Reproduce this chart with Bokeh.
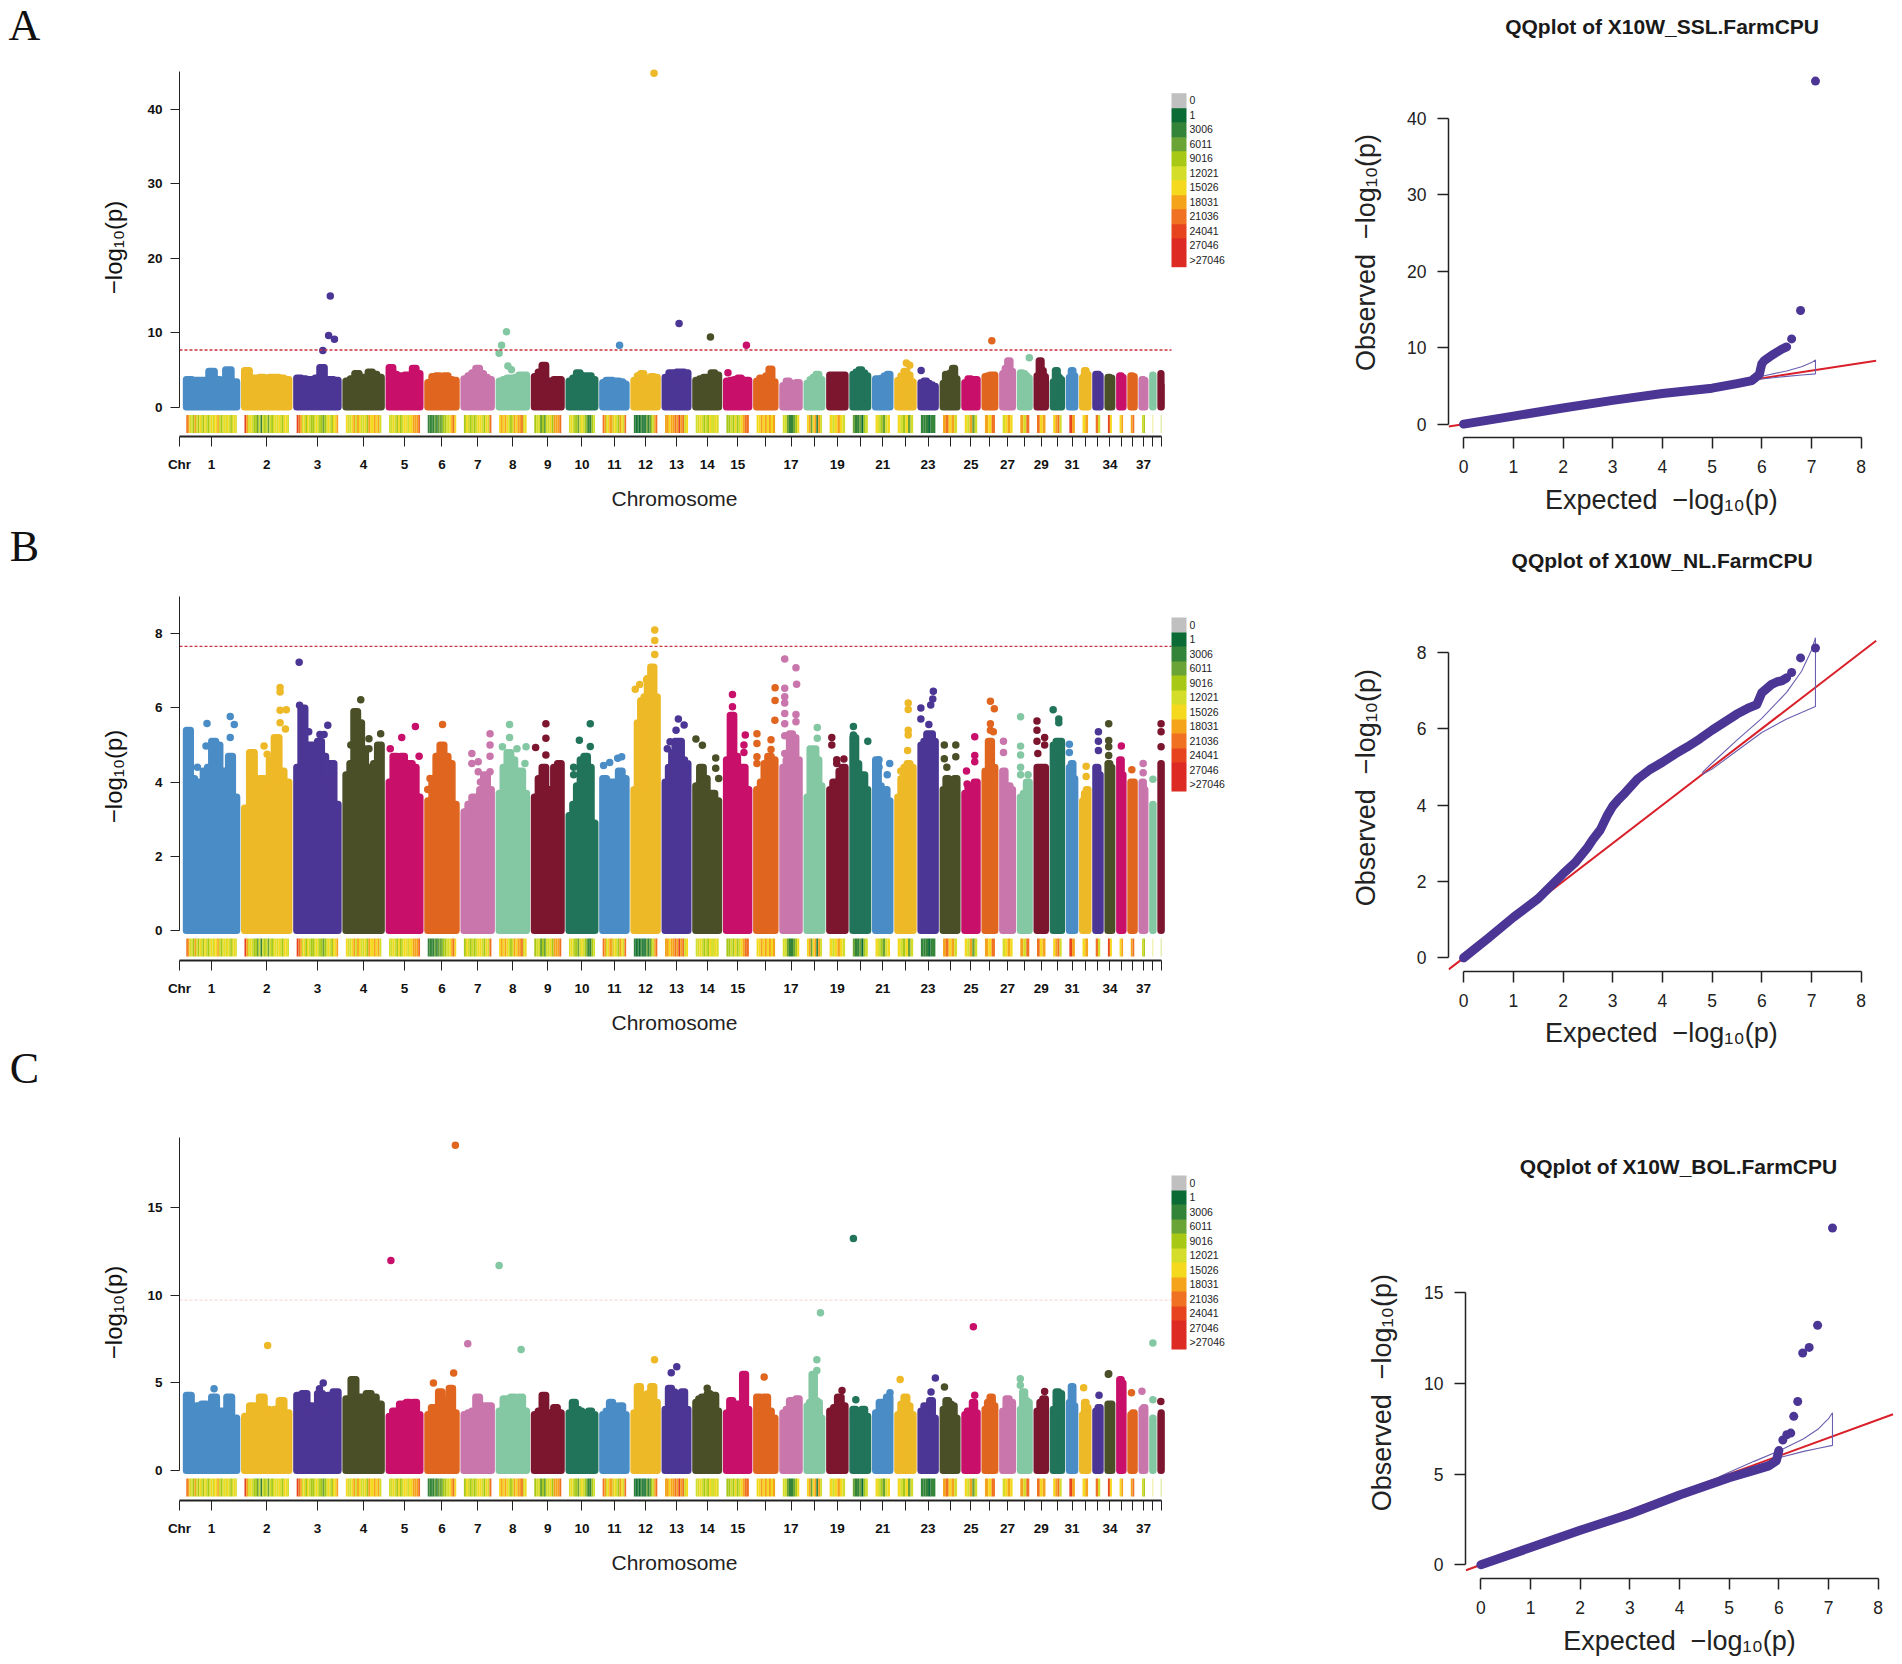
import math
import numpy as np
from bokeh.core.properties import value
from bokeh.embed import file_html
from bokeh.resources import INLINE
from bokeh.layouts import row, column
from bokeh.plotting import figure
from bokeh.models import (LinearAxis, FixedTicker, Range1d, ColorBar, LinearColorMapper, AllLabels)

# ---------------------------------------------------------------- data
chrom_mb = [101, 89, 83, 71, 62, 57, 55, 55, 54, 52, 47, 47, 46, 46, 45, 37, 33, 30, 31, 30,
            29, 31, 29, 28, 25, 20, 20, 18, 17, 17, 11, 11, 9, 8, 7, 7, 6, 1, 1]
gap_mb = 15.37
shown_chrom = [1,2,3,4,5,6,7,8,9,10,11,12,13,14,15,17,19,21,23,25,27,29,31,34,37]
chrom_colors = ["#4a8cc6", "#eeb927", "#4b3595", "#4a4f28", "#c8106b",
                "#e0651e", "#c876ac", "#84c7a3", "#7c162e", "#217359"]

legend_labels = ["0", "1", "3006", "6011", "9016", "12021", "15026", "18031", "21036",
                 "24041", "27046", ">27046"]
legend_colors = ["#c0c0c0", "#0b6b35", "#338338", "#6aa436", "#a7c814", "#d4dd2a",
                 "#f4d91e", "#f5a31b", "#ef7121", "#e8431f", "#dd2a22", "#dd2a22"]

density = ["8755475465465456566754565654565", "9756544352545354565654665", "987564654456544345654667",
           "6556757655647667675", "55654645665667778", "22223233344556786", "46545456654658",
           "676765457677856", "45534355647778", "565443565432245",
           "87567756547658", "212122123234578", "776778797856", "556545465565", "44546456788",
           "667676767", "55322346", "67367275", "656765", "3223145", "654356", "654635",
           "222122", "78675", "65735", "768", "5676", "758", "867", "6785", "97", "67", "85",
           "96", "67", "78", "54", "5", "4"]

env_a = [
 [3.7,3.6,3.6,3.6,4.8,3.7,3.6,5.0,3.4],[4.9,3.9,3.9,4.0,3.9,4.0,4.0,3.9,3.7],
 [3.9,3.8,3.7,3.7,3.9,5.3,3.7,3.7,3.6],[3.5,3.8,4.5,4.0,4.0,4.7,4.4,4.0],
 [5.3,4.4,4.2,4.2,4.3,4.2,5.2,4.5],[3.3,4.1,4.2,3.7,4.2,3.7,3.6],
 [3.8,4.2,4.6,5.2,4.5,4.0,3.7],[3.5,3.7,3.9,3.9,4.0,4.3,4.3],
 [4.1,4.7,5.6,3.5,3.4,3.7,3.7],[3.5,3.9,4.6,4.0,4.2,4.2,3.7],
 [3.3,3.6,3.6,3.5,3.5,3.4,3.1],[3.6,4.2,4.5,3.8,3.7,4.1,4.0],
 [4.0,4.6,4.6,4.7,4.7,4.6],[3.6,3.8,4.0,4.0,4.6,4.3],[3.5,3.6,3.7,3.9,3.5,3.6],
 [3.5,3.9,3.7,4.2,5.1,3.4],[2.9,3.5,3.2,3.2,3.3],[3.2,3.7,4.0,4.4,3.7],
 [4.3,4.3,4.3,4.3,4.3],[4.4,4.7,5.0,4.6,4.2],[3.8,3.7,3.9,4.2,4.4],
 [3.6,4.2,4.8,4.3,3.4],[3.3,3.5,3.2,3.0,2.8],[3.2,4.4,3.6,4.6,5.2,3.8],
 [3.3,3.8,3.7,3.7],[4.1,4.2,4.3,4.3],[4.5,5.2,6.2,4.8],[4.6,4.5,4.2,3.9],
 [4.2,6.2,4.9,4.1],[3.4,4.9,4.0,3.7],[4.0,4.9,4.2],[4.0,4.9,4.4],[4.4,4.4,4.2],
 [4.0,3.9],[4.2,4.0],[4.2,4.1],[3.7,3.6],[4.3,4.3],[4.5,3.0]]
hits_a = [(3,.81,14.9),(3,.77,9.6),(3,.91,9.1),(3,.63,7.6),(12,.86,44.8),(8,.27,10.1),(8,.09,8.3),
          (8,.0,7.2),(8,.32,5.5),(8,.45,5.0),(11,.72,8.3),(13,.61,11.2),(14,.64,9.4),(15,.89,8.3),
          (15,.07,4.6),(26,.69,8.9),(22,.56,5.9),(22,.78,5.6),(23,.02,4.9),(28,1.0,6.6)]

env_b = [
 [5.4,4.1,4.0,3.9,4.3,4.4,5.1,5.0,4.0,4.3,4.7,3.6],[3.3,4.8,3.9,4.1,3.9,4.6,5.2,4.3,4.0],
 [4.4,6.0,4.1,5.0,4.1,5.1,4.7,4.2,4.5,3.4],[4.2,4.5,5.9,5.6,4.9,4.2,4.4,4.5,5.0],
 [4.0,4.7,4.0,4.7,4.1,4.5,4.4,3.6],[3.5,4.1,4.7,5.0,4.7,4.5,3.4],
 [3.2,3.4,3.6,3.3,3.8,4.2,3.8],[3.7,4.4,4.8,4.6,4.1,4.3,3.7],
 [3.6,4.1,4.4,3.8,3.8,4.4,4.5],[3.1,3.4,3.9,4.6,4.7,4.4,2.9],
 [4.1,3.3,4.0,3.5,4.3,4.1],[3.8,5.6,6.2,6.3,6.8,7.1,6.3],
 [4.0,4.4,4.8,5.1,5.1,4.6,4.5],[3.9,4.4,4.1,3.7,3.7,3.5],[4.6,5.8,4.7,4.0,4.4,3.8],
 [3.8,4.0,4.5,4.7,4.6],[4.4,4.6,5.3,5.2,4.6],[3.6,4.9,4.9,4.6,3.9],[3.8,4.0,4.0,4.3,4.4],
 [5.2,4.5,4.2,4.2,3.8],[4.6,3.9,3.8,3.8,3.5],[3.6,4.1,4.4,4.5,4.4],[5.0,5.1,5.3,5.3,5.1],
 [3.8,4.1,3.9,4.0,4.1],[3.7,3.9,3.8,4.0],[4.3,5.1,4.4],[4.3,3.7,3.9,3.8],[3.6,3.7,4.0],
 [4.4,4.4,4.4],[5.0,5.1,5.1],[4.4,4.5,4.1],[3.5,3.7,3.8],[4.4,4.2],[4.5,4.4],[4.6,4.2],
 [4.0,4.0],[4.0,3.8],[3.4,3.4],[4.5,4.5]]
hits_b = [(1,.41,5.58),(1,.87,5.77),(1,.95,5.55),(1,.39,4.97),(1,.87,5.2),(1,.22,4.4),
 (2,.8,6.55),(2,.8,6.43),(2,.8,5.94),(2,.94,5.95),(2,.8,5.6),(2,.92,5.43),(2,.44,4.97),(2,.51,4.75),
 (3,.06,7.23),(3,.07,6.07),(3,.29,5.36),(3,.75,5.53),(3,.56,5.28),(3,.66,5.28),
 (4,.42,6.22),(4,.65,5.17),(4,.14,5.0),(4,.98,5.3),(4,.65,4.9),
 (5,.85,5.5),(5,.41,5.2),(5,.04,4.9),(5,.97,4.7),(6,.52,5.55),(6,.0,3.8),(6,.08,4.1),
 (7,.95,5.3),(7,.95,5.0),(7,.95,4.7),(7,.29,4.77),(7,.29,4.5),(7,.52,4.55),(7,.52,4.28),(7,.95,4.28),(7,.6,4.0),
 (8,.38,5.55),(8,.38,5.2),(8,.12,4.95),(8,.65,4.9),(8,.98,4.95),(8,.94,4.5),
 (9,.43,5.57),(9,.43,5.18),(9,.05,4.93),(9,.43,4.73),
 (10,.82,5.57),(10,.4,5.13),(10,.82,4.96),(10,.18,4.4),(10,.18,4.2),
 (11,.04,4.45),(11,.3,4.53),(11,.64,4.64),(11,.81,4.68),
 (12,.89,8.1),(12,.89,7.82),(12,.89,7.44),(12,.06,6.5),(12,.25,6.63),(12,.54,6.76),
 (13,.58,5.7),(13,.83,5.54),(13,.48,5.4),(13,.22,5.09),(13,.1,4.9),
 (14,.01,5.16),(14,.29,4.99),(14,.87,4.65),(14,.87,4.37),(14,1.0,4.1),
 (15,.27,6.36),(15,.27,6.03),(15,.84,5.27),(15,.78,5.0),(15,.78,4.8),
 (16,1.0,6.54),(16,1.0,6.2),(16,.99,5.67),(16,.02,5.3),(16,.02,5.04),(16,.02,4.68),(16,.02,4.5),(16,.78,5.14),(16,.78,4.88),
 (17,.12,7.32),(17,.8,7.08),(17,.84,6.64),(17,.12,6.53),(17,.12,6.3),(17,.12,6.13),(17,.12,5.85),(17,.8,5.82),(17,.8,5.63),(17,.12,5.57),(17,.12,5.25),(17,.12,4.77),
 (18,.69,5.47),(18,.69,5.18),(19,.14,5.2),(19,.14,5.0),(19,.46,4.5),(19,.92,4.62),(19,.46,4.6),
 (20,.04,5.5),(20,1.0,5.1),(20,.04,5.27),(21,.24,4.6),(21,.24,4.4),(21,.98,4.5),(21,.81,4.2),
 (22,.68,6.13),(22,.68,5.96),(22,.68,5.4),(22,.68,5.27),(22,.64,4.85),(22,.2,4.3),
 (23,.86,6.45),(23,.82,6.24),(23,.68,6.08),(23,.0,6.0),(23,.0,5.7),(23,.55,5.55),
 (24,.09,5.0),(24,.91,5.0),(24,.91,4.68),(24,.09,4.63),(24,.27,4.4),
 (25,.8,5.22),(25,.8,4.72),(25,.8,4.55),(25,.14,4.3),(25,.19,3.95),
 (26,.55,6.18),(26,.94,5.98),(26,.55,5.57),(26,.55,5.4),(26,.84,5.36),(27,.09,5.1),(27,.09,4.8),
 (28,.03,5.76),(28,.03,4.97),(28,.03,4.73),(28,.03,4.4),(28,.87,4.2),(28,.03,4.2),
 (29,.0,5.65),(29,.0,5.4),(29,.0,5.1),(29,.1,4.77),(29,.9,5.2),(29,.9,5.0),
 (30,.0,5.95),(30,.66,5.7),(30,.66,5.6),(31,.0,5.02),(31,.0,4.8),(32,.66,4.43),(32,.66,4.15),
 (33,.6,5.36),(33,.6,5.1),(33,.6,4.85),(34,.2,5.57),(34,.2,5.12),(34,.2,4.95),(34,.2,4.72),
 (35,.5,4.97),(36,.3,4.33),(37,.4,4.5),(37,.4,4.25),(38,.5,4.08),(39,.5,5.57),(39,.5,5.36),(39,.5,4.95)]

env_c = [
 [4.3,3.3,3.7,3.8,3.4,4.2,3.4,3.4,4.2,3.0],[3.1,3.7,3.5,4.2,3.5,3.3,3.5,4.0,3.3],
 [4.3,4.4,3.7,3.6,4.4,3.7,4.3,4.5],[4.1,5.2,4.2,4.2,4.4,4.2,3.8],
 [3.1,3.4,3.4,3.8,3.5,3.9,3.4,3.9,3.2],[3.2,3.6,3.4,4.5,4.0,3.8,4.7,3.3],
 [3.2,3.3,3.4,4.2,3.7,3.7,3.7],[3.4,4.1,4.0,4.2,3.6,4.2,3.4],
 [3.2,3.4,4.3,3.3,3.3,3.6,3.3],[3.3,3.9,3.5,3.4,3.2,3.3,3.4,3.2],
 [3.2,3.4,3.9,3.7,3.4,3.7,3.2],[3.3,4.8,4.2,4.1,4.4,4.8,3.9],
 [3.5,4.7,4.5,3.9,3.6,4.5,3.5],[3.9,4.1,4.2,3.9,4.4,4.1,4.3,3.4],
 [3.3,4.0,3.7,3.8,3.8,5.5,3.5],[4.2,4.1,4.2,3.4,3.0],[3.3,3.5,4.0,4.0,4.1],
 [3.7,3.9,5.5,4.0,3.9,3.0],[3.4,3.6,4.2,3.7],[3.5,3.4,3.2,3.5,3.1],[3.3,3.9,3.9,4.2],
 [3.2,3.8,4.2,3.7,3.2],[3.4,3.7,3.4,4.0,3.0],[3.5,4.0,3.8,3.7,3.0],[3.2,3.4,3.4,3.9,3.3],
 [3.5,3.9,4.2,3.7],[3.4,4.1,3.9],[3.5,4.5,4.0,3.9],[3.4,3.9,4.1],[3.5,4.5,4.4],
 [3.9,4.8,3.7],[3.2,3.9,3.6],[3.4,3.6],[3.8,3.8],[5.2,5.0],[3.2,3.3],[3.5,3.6],[3.0,3.0],[3.2,3.3]]
hits_c = [(6,.97,18.57),(5,.06,11.98),(8,.0,11.7),(20,.04,13.24),(18,.9,9.0),(25,.69,8.2),(2,.52,7.14),
 (7,.14,7.24),(8,.8,6.9),(38,.5,7.28),(18,.66,6.32),(18,.66,5.71),(12,.88,6.32),(13,.51,5.92),(13,.27,5.58),
 (6,.91,5.56),(6,.2,5.0),(22,.16,5.2),(23,1.0,5.28),(24,.1,4.76),(34,.2,5.52),(34,.1,5.5),(28,.0,5.24),(28,.0,4.86),
 (36,.2,4.44),(37,.0,4.53),(38,.5,4.04),(39,.0,3.94),(32,.2,4.72),(33,.74,4.29),(1,.55,4.67),(3,.64,5.0),
 (3,.55,4.67),(19,.8,4.57),(20,.2,4.04),(21,1.0,4.44),(23,.7,4.48),(16,.41,5.33),(14,.5,4.7),(29,.9,4.51),(25,.8,4.3)]

qq_expected_a = [0, 1, 2, 3, 4, 5, 5.5, 5.8, 5.95, 6.0, 6.05, 6.2, 6.3, 6.4, 6.5]
qq_observed_a = [0, 1.05, 2.1, 3.1, 4.0, 4.7, 5.3, 5.7, 6.5, 7.9, 8.3, 9.0, 9.4, 9.8, 10.1]
qq_tail_x_a = [6.6, 6.78, 7.08]
qq_tail_y_a = [11.15, 14.87, 44.9]
qq_expected_b = [0, 0.5, 1, 1.5, 2, 2.25, 2.5, 2.6, 2.75, 2.9, 3, 3.1, 3.25, 3.5, 3.75, 4, 4.25, 4.5, 4.75, 5, 5.25, 5.5, 5.75, 5.9, 6, 6.1, 6.2, 6.3, 6.4, 6.5]
qq_observed_b = [0, 0.52, 1.06, 1.55, 2.2, 2.5, 2.9, 3.1, 3.35, 3.75, 3.97, 4.12, 4.32, 4.68, 4.93, 5.12, 5.33, 5.52, 5.73, 5.96, 6.17, 6.38, 6.55, 6.63, 6.94, 7.05, 7.16, 7.22, 7.25, 7.33]
qq_tail_x_b = [6.6, 6.78, 7.08]
qq_tail_y_b = [7.47, 7.85, 8.11]
qq_expected_c = [0, 1, 2, 3, 4, 5, 5.5, 5.8, 5.95, 6.0]
qq_observed_c = [0, 0.95, 1.9, 2.8, 3.85, 4.8, 5.2, 5.45, 5.73, 6.3]
qq_tail_x_c = [6.08, 6.16, 6.24, 6.3, 6.38, 6.48, 6.61, 6.78, 7.08]
qq_tail_y_c = [6.88, 7.17, 7.26, 8.18, 9.0, 11.67, 11.98, 13.2, 18.56]
ci_x = [4.8, 5, 5.5, 6, 6.5, 6.8, 7.0, 7.08, 7.08, 6.8, 6.5, 6, 5.5, 5, 4.8]
ci_y = [4.85, 5.1, 5.7, 6.27, 6.95, 7.5, 8.05, 8.38, 6.58, 6.42, 6.25, 5.9, 5.42, 4.94, 4.8]
diag = [-0.3, 8.3]

# ---------------------------------------------------------------- layout helpers
FONT = "Liberation Sans"
MAN_W = 1290
QQ_X = 1290
QQ_W = 610

starts = []
_x = 0.0
for L in chrom_mb:
    starts.append(_x)
    _x += L + gap_mb
ends = [s + L for s, L in zip(starts, chrom_mb)]
centers = [(s + e) / 2 for s, e in zip(starts, ends)]
MB_PER_PX = 2.0
ORIGIN_PX = 185.8


def put_text(p, x, y, text, size, font=FONT, style="normal", angle=0.0, color="#222222"):
    p.text([x], [y], text=[text], text_font=value(font), text_font_size=value(size),
           text_font_style=style, angle=angle, text_align="center", text_baseline="middle",
           text_color=color, level="annotation")


def manhattan(env, hits, fig_top, fig_h, y0, unit, frame_top, frame_bottom, ticks, axis_top,
              thr, thr_col, legend_top, chrom_y, letter, letter_y, ylab_y):
    left_px, right_px = 179.0, 1240.0
    xs0 = (left_px - ORIGIN_PX) * MB_PER_PX
    xs1 = (right_px - ORIGIN_PX) * MB_PER_PX
    p = figure(width=MAN_W, height=fig_h, output_backend="svg", toolbar_location=None,
               x_axis_location=None, y_axis_location=None, frame_align=False,
               x_range=Range1d(xs0, xs1),
               y_range=Range1d((y0 - frame_bottom) / unit, (y0 - frame_top) / unit),
               min_border_left=int(left_px), min_border_right=int(MAN_W - right_px),
               min_border_top=int(frame_top - fig_top), min_border_bottom=int(fig_top + fig_h - frame_bottom))
    p.outline_line_color = None
    p.background_fill_color = None
    p.grid.visible = False
    X = lambda px: (px - ORIGIN_PX) * MB_PER_PX
    Y = lambda py: (y0 - py) / unit

    # chromosome silhouettes: one column per value
    xs, ys, cols = [], [], []
    for i, e in enumerate(env):
        edges = np.linspace(starts[i], ends[i], len(e) + 1)
        px_, py_ = [starts[i]], [0.0]
        for k, v in enumerate(e):
            px_ += [edges[k], edges[k + 1]]
            py_ += [v, v]
        px_.append(ends[i])
        py_.append(0.0)
        xs.append(px_)
        ys.append(py_)
        cols.append(chrom_colors[i % 10])
    p.patches(xs, ys, fill_color=cols, line_color=cols, line_width=7, line_join="round")

    hx = [starts[c - 1] + f * chrom_mb[c - 1] for c, f, v in hits]
    hy = [v for c, f, v in hits]
    hc = [chrom_colors[(c - 1) % 10] for c, f, v in hits]
    p.scatter(hx, hy, size=7.5, fill_color=hc, line_color=None)

    # threshold
    p.line([xs0, X(1171)], [thr, thr], line_color=thr_col, line_width=1.3, line_dash="3 2")

    # density strip
    L, R, C = [], [], []
    for i, d in enumerate(density):
        w = chrom_mb[i] / len(d)
        for k, ch in enumerate(d):
            L.append(starts[i] + k * w)
            R.append(starts[i] + (k + 1) * w)
            C.append(legend_colors[int(ch)])
    st_top = y0 + 8
    p.quad(left=L, right=R, top=Y(st_top), bottom=Y(st_top + 18), fill_color=C, line_color=None)

    # axes
    ya = LinearAxis(ticker=FixedTicker(ticks=ticks), bounds=(0, axis_top))
    ya.major_tick_out = 9
    ya.major_tick_in = 0
    ya.minor_tick_out = 0
    ya.minor_tick_in = 0
    ya.major_label_standoff = 8
    ya.major_label_text_font = FONT
    ya.major_label_text_font_style = "bold"
    ya.major_label_text_font_size = "13.5px"
    ya.major_label_text_color = "#111111"
    ya.axis_line_color = "#222222"
    ya.major_tick_line_color = "#222222"
    p.add_layout(ya, "left")

    tick_pos = [round(xs0, 2)] + [round(c, 2) for c in centers]
    over = {tick_pos[0]: "Chr"}
    for i in range(39):
        over[tick_pos[i + 1]] = str(i + 1) if (i + 1) in shown_chrom else ""
    xa = LinearAxis(ticker=FixedTicker(ticks=tick_pos), major_label_overrides=over,
                    bounds=(xs0, tick_pos[-1]), major_label_policy=AllLabels())
    xa.major_tick_out = 10
    xa.major_tick_in = 0
    xa.minor_tick_out = 0
    xa.minor_tick_in = 0
    xa.major_label_standoff = 10
    xa.major_label_text_font = FONT
    xa.major_label_text_font_style = "bold"
    xa.major_label_text_font_size = "13.5px"
    xa.major_label_text_color = "#111111"
    xa.axis_line_width = 2
    xa.axis_line_color = "#222222"
    xa.major_tick_line_color = "#222222"
    p.add_layout(xa, "below")

    # colour legend
    mapper = LinearColorMapper(palette=legend_colors[::-1], low=0, high=12)
    cb = ColorBar(color_mapper=mapper, width=15, height=174,
                  location=(1171 - left_px, frame_bottom - legend_top - 174),
                  padding=0, margin=0,
                  ticker=FixedTicker(ticks=[k + 0.5 for k in range(12)]),
                  major_label_overrides={k + 0.5: legend_labels[11 - k] for k in range(12)},
                  major_label_policy=AllLabels(),
                  major_tick_line_color=None, minor_tick_line_color=None, bar_line_color=None,
                  major_label_text_font=FONT, major_label_text_font_size="10.5px",
                  major_label_text_color="#222222", label_standoff=3,
                  background_fill_color=None, border_line_color=None)
    p.add_layout(cb, "center")

    # texts
    put_text(p, X(674), Y(chrom_y), "Chromosome", "21px")
    put_text(p, X(113), Y(ylab_y), "\u2212log\u2081\u2080(p)", "24px", angle=math.pi / 2, color="#111111")
    put_text(p, X(24), Y(letter_y), letter, "44px", font="Liberation Serif", color="#111111")
    return p


def qq(ex, ob, tx, ty, title, fig_top, fig_h, x_zero, x_unit, y_axis_px, y0, unit, frame_top, frame_bottom,
       ticks, title_x, title_y, exp_x, exp_y, obs_x, obs_y):
    right_px = QQ_X + QQ_W
    p = figure(width=QQ_W, height=fig_h, output_backend="svg", toolbar_location=None,
               x_axis_location=None, y_axis_location=None, frame_align=False,
               x_range=Range1d((y_axis_px - x_zero) / x_unit, (right_px - x_zero) / x_unit),
               y_range=Range1d((y0 - frame_bottom) / unit, (y0 - frame_top) / unit),
               min_border_left=int(round(y_axis_px - QQ_X)), min_border_right=0,
               min_border_top=int(frame_top - fig_top), min_border_bottom=int(fig_top + fig_h - frame_bottom))
    p.outline_line_color = None
    p.grid.visible = False
    X = lambda px: (px - x_zero) / x_unit
    Y = lambda py: (y0 - py) / unit
    p.line(diag, diag, line_color="#d9202a", line_width=2)
    p.line(ci_x, ci_y, line_color="#6a5fae", line_width=1.1)
    p.line(ex, ob, line_color="#4b3595", line_width=9, line_cap="round", line_join="round")
    p.scatter(tx, ty, size=9, fill_color="#4b3595", line_color=None)

    ya = LinearAxis(ticker=FixedTicker(ticks=ticks), bounds=(0, ticks[-1]))
    xa = LinearAxis(ticker=FixedTicker(ticks=list(range(9))), bounds=(0, 8))
    for a in (ya, xa):
        a.major_tick_out = 11
        a.major_tick_in = 0
        a.minor_tick_out = 0
        a.minor_tick_in = 0
        a.major_label_standoff = 11
        a.major_label_text_font = FONT
        a.major_label_text_font_size = "17.5px"
        a.major_label_text_color = "#222222"
        a.axis_line_color = "#222222"
        a.major_tick_line_color = "#222222"
        a.axis_line_width = 1.5
        a.major_tick_line_width = 1.5
    p.add_layout(ya, "left")
    p.add_layout(xa, "below")

    put_text(p, X(title_x), Y(title_y), title, "21px", style="bold", color="#1a1a1a")
    put_text(p, X(exp_x), Y(exp_y), "Expected\u00a0\u00a0\u2212log\u2081\u2080(p)", "27px")
    put_text(p, X(obs_x), Y(obs_y), "Observed\u00a0\u00a0\u2212log\u2081\u2080(p)", "27px", angle=math.pi / 2)
    return p


m_a = manhattan(env_a, hits_a, 0, 520, 406.5, 7.45, 60, 436, [0, 10, 20, 30, 40], 45, 7.65, "#c8323c", 92.7,
                498, "A", 25, 247)
m_b = manhattan(env_b, hits_b, 520, 520, 930, 37.1, 590, 960, [0, 2, 4, 6, 8], 9, 7.66, "#c8323c", 617,
                1022, "B", 546, 776)
m_c = manhattan(env_c, hits_c, 1040, 620, 1470, 17.52, 1130, 1500, [0, 5, 10, 15], 19, 9.72, "#f9d9d9", 1175,
                1562, "C", 1068, 1312)

q_a = qq(qq_expected_a, qq_observed_a, qq_tail_x_a, qq_tail_y_a, "QQplot of X10W_SSL.FarmCPU", 0, 530,
         1463.1, 49.7, 1448, 423.6, 7.64, 50, 437, [0, 10, 20, 30, 40], 1661.6, 26.4, 1660.8, 499.6, 1365, 252)
q_b = qq(qq_expected_b, qq_observed_b, qq_tail_x_b, qq_tail_y_b, "QQplot of X10W_NL.FarmCPU", 530, 530,
         1463.1, 49.7, 1448, 956.8, 38.15, 590, 970.4, [0, 2, 4, 6, 8], 1661.6, 560.3, 1660.8, 1032, 1365, 786.8)
q_c = qq(qq_expected_c, qq_observed_c, qq_tail_x_c, qq_tail_y_c, "QQplot of X10W_BOL.FarmCPU", 1060, 600,
         1480.4, 49.66, 1465, 1564, 18.13, 1190, 1577.7, [0, 5, 10, 15], 1678, 1166, 1679, 1640, 1381.4, 1392)

layout = row(column(m_a, m_b, m_c), column(q_a, q_b, q_c))
open("out.html", "w").write(file_html(layout, INLINE))
